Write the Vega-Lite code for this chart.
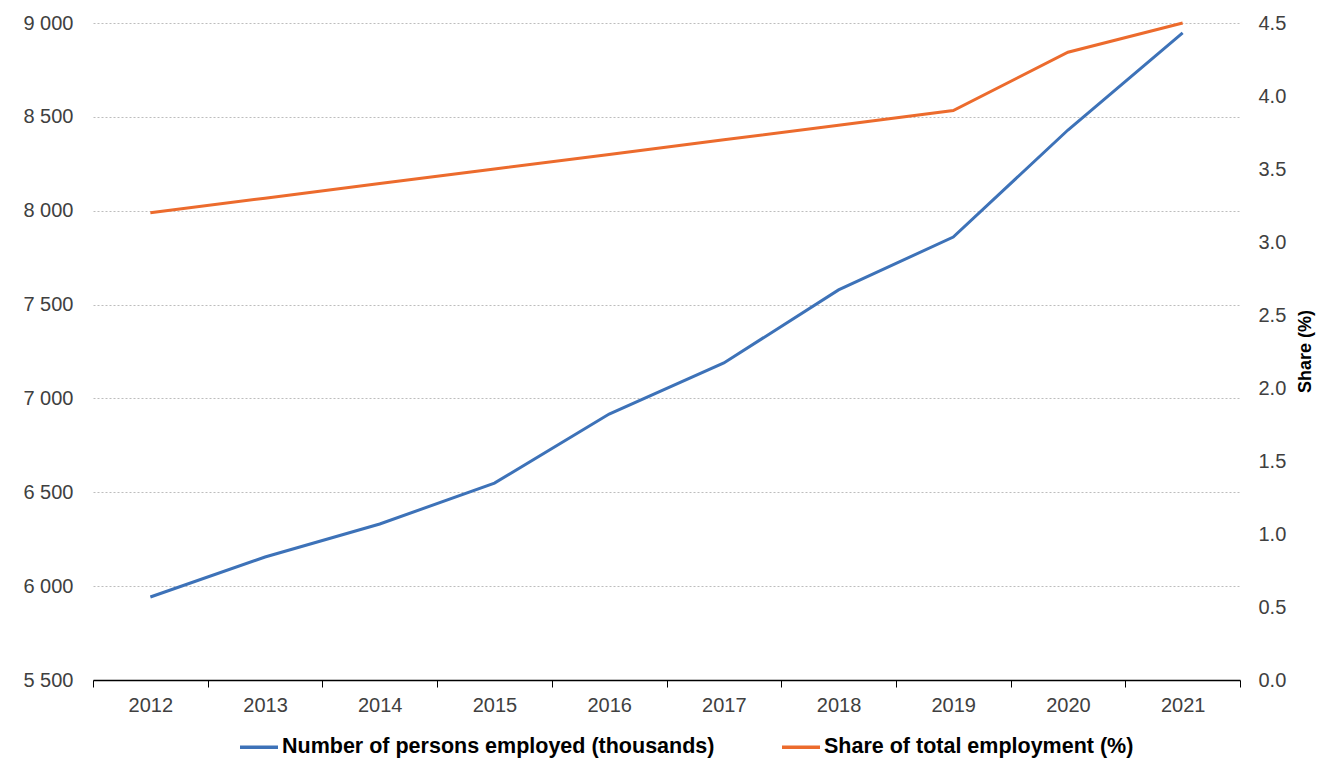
{
  "$schema": "https://vega.github.io/schema/vega-lite/v6.json",
  "width": 1147,
  "height": 657,
  "autosize": {"type": "none"},
  "padding": {"left": 93, "top": 23, "right": 79, "bottom": 81},
  "background": "white",
  "config": {
    "font": "Liberation Sans",
    "view": {"stroke": null},
    "axis": {"labelFont": "Liberation Sans", "labelFontSize": 20, "labelColor": "#404040", "titleFont": "Liberation Sans"}
  },
  "data": {
    "values": [
      {"year": "2012", "employed": 5942, "share": 3.2},
      {"year": "2013", "employed": 6155, "share": 3.3},
      {"year": "2014", "employed": 6331, "share": 3.4},
      {"year": "2015", "employed": 6549, "share": 3.5},
      {"year": "2016", "employed": 6917, "share": 3.6},
      {"year": "2017", "employed": 7189, "share": 3.7},
      {"year": "2018", "employed": 7578, "share": 3.8},
      {"year": "2019", "employed": 7860, "share": 3.9},
      {"year": "2020", "employed": 8430, "share": 4.3},
      {"year": "2021", "employed": 8947, "share": 4.5}
    ]
  },
  "encoding": {
    "x": {
      "field": "year",
      "type": "ordinal",
      "scale": {"paddingInner": 0, "paddingOuter": 0},
      "axis": {
        "title": null,
        "labelAngle": 0,
        "domainColor": "#000000",
        "domainWidth": 1.5,
        "tickColor": "#000000",
        "tickBand": "extent",
        "tickSize": 7,
        "labelPadding": 8,
        "grid": false
      }
    },
    "color": {
      "scale": {
        "domain": ["Number of persons employed (thousands)", "Share of total employment (%)"],
        "range": ["#3d72b8", "#ec6b2d"]
      },
      "legend": {
        "title": null,
        "orient": "none",
        "direction": "horizontal",
        "legendX": 145,
        "legendY": 703,
        "symbolType": "stroke",
        "symbolStrokeWidth": 3.5,
        "symbolSize": 1444,
        "symbolOffset": 0,
        "labelFont": "Liberation Sans",
        "labelFontSize": 21.5,
        "labelFontWeight": "bold",
        "labelColor": "#000000",
        "labelOffset": 2,
        "columnPadding": 60,
        "labelLimit": 600
      }
    }
  },
  "layer": [
    {
      "mark": {"type": "line", "strokeWidth": 3},
      "encoding": {
        "y": {
          "field": "employed",
          "type": "quantitative",
          "scale": {"domain": [5500, 9000], "nice": false, "zero": false},
          "axis": {
            "title": null,
            "values": [5500, 6000, 6500, 7000, 7500, 8000, 8500, 9000],
            "labelExpr": "replace(format(datum.value, ','), ',', ' ')",
            "domain": false,
            "ticks": false,
            "labelPadding": 20,
            "grid": true,
            "gridColor": "#bdbdbd",
            "gridDash": [2, 2],
            "gridWidth": 1
          }
        },
        "color": {"datum": "Number of persons employed (thousands)"}
      }
    },
    {
      "mark": {"type": "line", "strokeWidth": 3},
      "encoding": {
        "y": {
          "field": "share",
          "type": "quantitative",
          "scale": {"domain": [0, 4.5], "nice": false},
          "axis": {
            "orient": "right",
            "title": "Share (%)",
            "titleAngle": 270,
            "titleFontSize": 18,
            "titleFontWeight": "bold",
            "titleColor": "#000000",
            "titleX": 65,
            "titleY": 328,
            "titleAlign": "center",
            "titleBaseline": "middle",
            "values": [0, 0.5, 1, 1.5, 2, 2.5, 3, 3.5, 4, 4.5],
            "format": ".1f",
            "domain": false,
            "ticks": false,
            "labelPadding": 18,
            "grid": false
          }
        },
        "color": {"datum": "Share of total employment (%)"}
      }
    }
  ],
  "resolve": {"scale": {"y": "independent"}}
}
